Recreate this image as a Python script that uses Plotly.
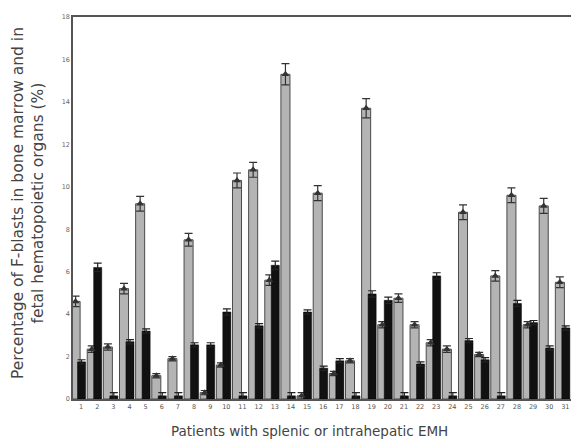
import plotly.graph_objects as go

patients = list(range(1, 32))
tick_labels = [str(p) for p in patients]
bone_marrow = [4.6, 2.35, 2.45, 5.2, 9.2, 1.1, 1.9, 7.5, 0.3, 1.6, 10.3, 10.8, 5.6, 15.3,
               0.15, 9.7, 1.2, 1.8, 13.7, 3.5, 4.75, 3.5, 2.65, 2.35, 8.8, 2.1, 5.8, 9.6,
               3.5, 9.1, 5.5]
bone_marrow_err = [0.25, 0.15, 0.15, 0.25, 0.35, 0.1, 0.1, 0.3, 0.1, 0.1, 0.35, 0.35, 0.25, 0.5,
                   0.15, 0.35, 0.1, 0.1, 0.45, 0.15, 0.2, 0.15, 0.15, 0.15, 0.35, 0.1, 0.25, 0.35,
                   0.15, 0.35, 0.25]
emh_organ = [1.75, 6.2, 0.15, 2.7, 3.2, 0.15, 0.15, 2.55, 2.55, 4.1, 0.15, 3.45, 6.3, 0.15,
             4.1, 1.45, 1.8, 0.15, 4.95, 4.65, 0.15, 1.65, 5.8, 0.15, 2.75, 1.85, 0.15, 4.5,
             3.6, 2.4, 3.35]
emh_err = [0.1, 0.2, 0.15, 0.1, 0.1, 0.15, 0.15, 0.1, 0.1, 0.15, 0.15, 0.1, 0.2, 0.15,
           0.1, 0.1, 0.1, 0.15, 0.15, 0.15, 0.15, 0.1, 0.15, 0.15, 0.1, 0.1, 0.15, 0.15,
           0.1, 0.1, 0.1]

fig = go.Figure()
fig.add_trace(go.Bar(
    x=patients, y=bone_marrow, width=0.56, offset=-0.62,
    marker=dict(color="#b4b4b4", line=dict(color="#4a4a4a", width=1)),
    error_y=dict(type="data", array=bone_marrow_err, color="#333", thickness=1.2, width=4),
    name="Bone marrow", showlegend=False))
fig.add_trace(go.Scatter(
    x=[p - 0.34 for p in patients], y=bone_marrow, mode="markers",
    marker=dict(symbol="triangle-up", size=7, color="#333"),
    showlegend=False, hoverinfo="skip"))
fig.add_trace(go.Bar(
    x=patients, y=emh_organ, width=0.5, offset=-0.22,
    marker=dict(color="#111111", line=dict(color="#000", width=0.5)),
    error_y=dict(type="data", array=emh_err, color="#222", thickness=1.2, width=4),
    name="EMH organ", showlegend=False))

fig.update_layout(
    width=564, height=438, barmode="overlay",
    margin=dict(l=65, r=1, t=9, b=47),
    plot_bgcolor="white", paper_bgcolor="white",
    font=dict(family="DejaVu Sans, sans-serif", color="#333"),
    xaxis=dict(range=[0.5, 31.35], tickmode="array", tickvals=patients, ticktext=tick_labels,
               tickfont=dict(size=6.5, color="#555"), showgrid=False, zeroline=False,
               showline=True, linecolor="#555", linewidth=1.5, mirror=True, ticks="",
               automargin=False),
    yaxis=dict(range=[0, 18], tickvals=list(range(0, 19, 2)),
               tickfont=dict(size=6.5, color="#666"), showgrid=False, zeroline=False,
               showline=True, linecolor="#555", linewidth=1.5, mirror=True, ticks="",
               automargin=False),
    annotations=[
        dict(text="Patients with splenic or intrahepatic EMH", xref="paper", yref="paper",
             x=0.475, y=0, yshift=-32, xanchor="center", yanchor="middle", showarrow=False,
             font=dict(size=13.5, color="#444")),
        dict(text="Percentage of F-blasts in bone marrow and in<br>fetal hematopoietic organs (%)",
             xref="paper", yref="paper", x=0, xshift=-45, y=0.513, xanchor="center", yanchor="middle",
             textangle=-90, showarrow=False, font=dict(size=15.5, color="#444")),
    ],
)
fig.write_html("out.html")
